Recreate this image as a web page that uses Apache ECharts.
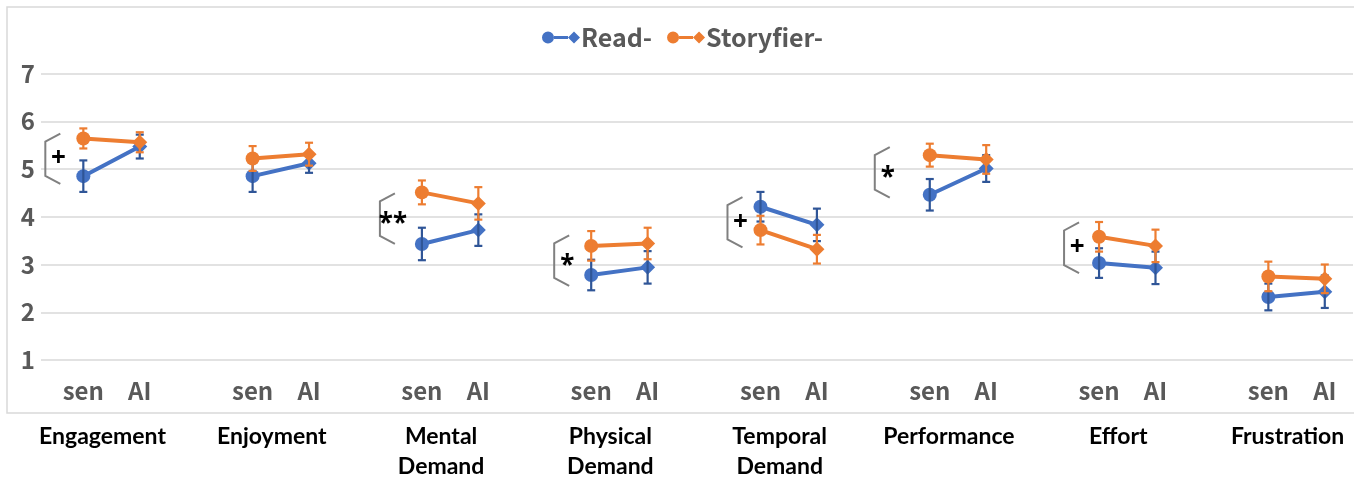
<!DOCTYPE html>
<html>
<head>
<meta charset="utf-8">
<script src="https://cdn.jsdelivr.net/npm/echarts@6/dist/echarts.min.js"></script>
<style>
  html, body { margin: 0; padding: 0; background: #fff; }
  #chart { width: 1354px; height: 478px; }
</style>
</head>
<body>
<div id="chart"></div>
<script>
// ---- Data ----
const categories = ['Engagement', 'Enjoyment', 'Mental\nDemand', 'Physical\nDemand', 'Temporal\nDemand', 'Performance', 'Effort', 'Frustration'];
const conditions = ['sen', 'AI'];
const seriesNames = ['Read-', 'Storyfier-'];

const readSen = [4.85, 4.85, 3.43, 2.78, 4.21, 4.46, 3.03, 2.32];
const readAI = [5.47, 5.12, 3.72, 2.94, 3.83, 5.01, 2.93, 2.43];
const readSenErr = [0.33, 0.33, 0.34, 0.32, 0.31, 0.33, 0.31, 0.28];
const readAIErr = [0.25, 0.20, 0.33, 0.34, 0.34, 0.28, 0.34, 0.34];

const storySen = [5.64, 5.22, 4.51, 3.39, 3.72, 5.29, 3.58, 2.75];
const storyAI = [5.56, 5.31, 4.28, 3.44, 3.32, 5.20, 3.39, 2.70];
const storySenErr = [0.21, 0.26, 0.25, 0.31, 0.30, 0.24, 0.31, 0.31];
const storyAIErr = [0.21, 0.24, 0.34, 0.33, 0.30, 0.30, 0.34, 0.30];

const yTicks = [1, 2, 3, 4, 5, 6, 7];

// significance annotations
const sigLabels = ['+', '', '**', '*', '+', '*', '+', ''];
const sigTop = [5.74, null, 4.49, 3.61, 4.41, 5.46, 3.88, null];
const sigBottom = [4.69, null, 3.43, 2.55, 3.36, 4.40, 2.82, null];

// ---- layout / style constants ----
const bracketShiftPx = [-38, 0, -42, -37, -33, -55, -35, 0];
const BLUE = '#4472C4', BLUE_ERR = '#2F5597', ORANGE = '#ED7D31', ORANGE_ERR = '#ED7D31';
const GRAY_TEXT = '#595959';
const SLOT = 3; // sen, AI, gap

function lineData(sen, ai) {
  const out = [];
  categories.forEach((c, g) => {
    out.push({ value: [g * SLOT, sen[g]], symbol: 'circle', symbolSize: 14 });
    out.push({ value: [g * SLOT + 1, ai[g]], symbol: 'diamond', symbolSize: 15 });
    if (g < categories.length - 1) out.push({ value: [g * SLOT + 2, '-'] });
  });
  return out;
}
function errData(sen, ai, senE, aiE) {
  const out = [];
  categories.forEach((c, g) => {
    out.push([g * SLOT, sen[g], senE[g]]);
    out.push([g * SLOT + 1, ai[g], aiE[g]]);
  });
  return out;
}
function errSeries(name, data, color, z) {
  return {
    type: 'custom', name: name, z: z, silent: true,
    data: data,
    encode: { x: 0, y: 1 },
    renderItem: function (params, api) {
      const x = api.value(0), y = api.value(1), e = api.value(2);
      const top = api.coord([x, y + e]);
      const bot = api.coord([x, y - e]);
      const hw = 4;
      const style = { stroke: color, lineWidth: 2.2, fill: null };
      return {
        type: 'group',
        children: [
          { type: 'line', shape: { x1: top[0], y1: top[1], x2: bot[0], y2: bot[1] }, style: style },
          { type: 'line', shape: { x1: top[0] - hw, y1: top[1], x2: top[0] + hw, y2: top[1] }, style: style },
          { type: 'line', shape: { x1: bot[0] - hw, y1: bot[1], x2: bot[0] + hw, y2: bot[1] }, style: style }
        ]
      };
    }
  };
}

const sigData = [];
categories.forEach((c, g) => {
  if (sigLabels[g]) sigData.push([g * SLOT, sigTop[g], sigBottom[g], g]);
});

const senAIValues = [];
categories.forEach((c, g) => { senAIValues.push(g * SLOT, g * SLOT + 1); });
const groupLabelValues = categories.map((c, g) => g * SLOT + 0.34);

const legendIcon = 'path://M0 6 A6 6 0 1 1 12 6 A6 6 0 1 1 0 6 Z M12 4.5 L26 4.5 L26 7.5 L12 7.5 Z M32 0 L38 6 L32 12 L26 6 Z';

const chart = echarts.init(document.getElementById('chart'), null, { renderer: 'canvas' });
const option = {
  animation: false,
  backgroundColor: '#ffffff',
  graphic: [{
    type: 'rect', z: -10, silent: true,
    shape: { x: 7, y: 7, width: 1352, height: 406 },
    style: { fill: null, stroke: '#d9d9d9', lineWidth: 1.5 }
  }],
  legend: {
    left: 537, top: 20,
    itemWidth: 38, itemHeight: 12, itemGap: 15,
    data: [{ name: seriesNames[0], icon: legendIcon }, { name: seriesNames[1], icon: legendIcon }],
    textStyle: { fontFamily: 'Noto Sans CJK SC', fontWeight: 'bold', fontSize: 25, color: GRAY_TEXT, padding: [0, 0, 0, -4] }
  },
  grid: { left: 41, right: 1, top: 73.5, bottom: 118, containLabel: false, outerBoundsMode: 'none' },
  xAxis: [{
    type: 'value', min: -0.75, max: 22.5,
    axisLine: { show: false }, axisTick: { show: false }, splitLine: { show: false },
    axisLabel: {
      customValues: senAIValues,
      formatter: v => conditions[Math.round(v) % SLOT],
      margin: 19,
      fontFamily: 'Noto Sans CJK SC', fontWeight: 'bold', fontSize: 24, color: GRAY_TEXT
    }
  }, {
    type: 'value', min: -0.75, max: 22.5, position: 'bottom',
    axisLine: { show: false }, axisTick: { show: false }, splitLine: { show: false },
    axisLabel: {
      customValues: groupLabelValues,
      formatter: v => categories[Math.floor(v / SLOT + 0.01)],
      margin: 62, lineHeight: 30,
      fontFamily: 'Lato', fontWeight: 'bold', fontSize: 23, color: '#000000'
    }
  }],
  yAxis: {
    type: 'value', min: yTicks[0], max: yTicks[yTicks.length - 1], interval: 1,
    axisLine: { show: false }, axisTick: { show: false },
    splitLine: { lineStyle: { color: '#d9d9d9', width: 1.5 } },
    axisLabel: { margin: 6, fontFamily: 'Noto Sans CJK SC', fontWeight: 'bold', fontSize: 24, color: GRAY_TEXT }
  },
  series: [
    {
      name: seriesNames[0], type: 'line', z: 2,
      data: lineData(readSen, readAI),
      connectNulls: false,
      lineStyle: { color: BLUE, width: 4 },
      itemStyle: { color: BLUE, borderWidth: 0 }
    },
    errSeries('readErr', errData(readSen, readAI, readSenErr, readAIErr), BLUE_ERR, 3),
    {
      name: seriesNames[1], type: 'line', z: 4,
      data: lineData(storySen, storyAI),
      connectNulls: false,
      lineStyle: { color: ORANGE, width: 4 },
      itemStyle: { color: ORANGE, borderWidth: 0 }
    },
    errSeries('storyErr', errData(storySen, storyAI, storySenErr, storyAIErr), ORANGE_ERR, 5),
    {
      type: 'custom', name: 'sig', z: 6, silent: true,
      data: sigData,
      encode: { x: 0, y: [1, 2] },
      renderItem: function (params, api) {
        const g = api.value(3);
        const senPt = api.coord([api.value(0), api.value(1)]);
        const xv = senPt[0] + bracketShiftPx[g];
        const xt = xv + 15;
        const yt = api.coord([api.value(0), api.value(1)])[1];
        const yb = api.coord([api.value(0), api.value(2)])[1];
        const label = sigLabels[g];
        const isStar = label.indexOf('*') >= 0;
        return {
          type: 'group',
          children: [
            { type: 'polyline', shape: { points: [[xt, yt], [xv, yt + 8], [xv, yb - 8], [xt, yb]] },
              style: { stroke: '#808080', lineWidth: 2, fill: null } },
            { type: 'text',
              style: { text: label, x: xv + 13, y: (yt + yb) / 2 + (isStar ? 6 : 0),
                       align: 'center', verticalAlign: 'middle',
                       font: 'bold 26px "Noto Sans"', fill: '#000000' } }
          ]
        };
      }
    }
  ]
};
chart.setOption(option);
</script>
</body>
</html>
